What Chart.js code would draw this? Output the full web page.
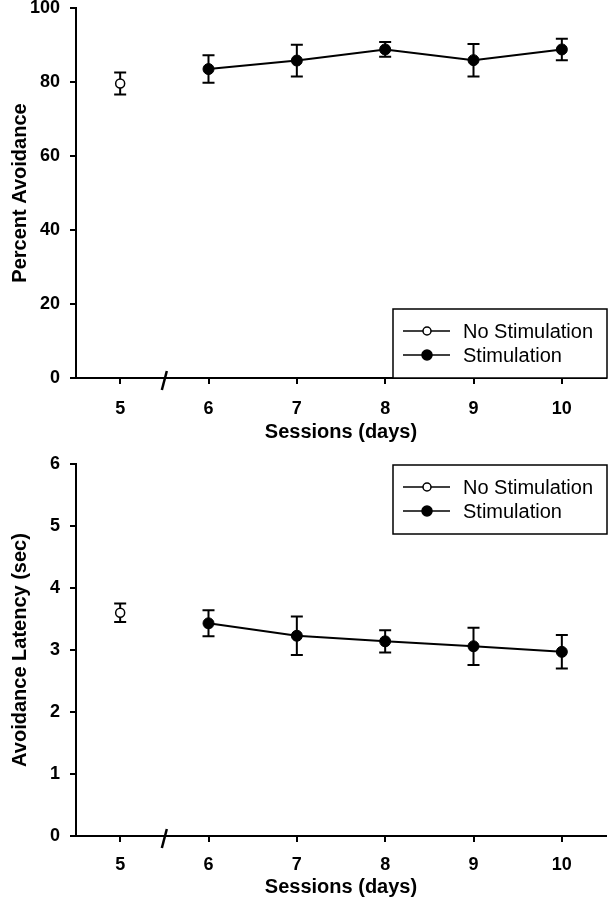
<!DOCTYPE html>
<html>
<head>
<meta charset="utf-8">
<script src="https://cdn.jsdelivr.net/npm/chart.js@4.4.1/dist/chart.umd.min.js"></script>
<style>
  body { margin: 0; background: #fff; }
  canvas { display: block; }
</style>
</head>
<body>
<canvas id="avoidChart" width="608" height="450"></canvas>
<canvas id="latencyChart" width="608" height="450"></canvas>
<script>
// sessions (day 5 = last day without stimulation)
const baselineDay = [5];
const stimDays = [6, 7, 8, 9, 10];
const xTicks = [5, 6, 7, 8, 9, 10];

// percent avoidance, mean and SEM
const avoidNoStim = [79.6];
const avoidNoStimErr = [3.0];
const avoidStim = [83.5, 85.8, 88.8, 85.9, 88.8];
const avoidStimErr = [3.7, 4.3, 2.0, 4.4, 2.9];

// avoidance latency (sec), mean and SEM
const latNoStim = [3.60];
const latNoStimErr = [0.15];
const latStim = [3.43, 3.23, 3.14, 3.06, 2.97];
const latStimErr = [0.21, 0.31, 0.18, 0.30, 0.27];

const seriesNames = ['No Stimulation', 'Stimulation'];

const FONT = '"Liberation Sans", Arial, sans-serif';

// error bars go under the points
const errorBars = {
    id: 'errorBars',
    beforeDatasetsDraw(chart) {
        const ctx = chart.ctx;
        const xs = chart.scales.x, ys = chart.scales.y;
        ctx.save();
        ctx.strokeStyle = '#000';
        ctx.lineWidth = 2;
        chart.data.datasets.forEach(ds => {
            ds.data.forEach((p, j) => {
                const e = ds.errors[j];
                const x = xs.getPixelForValue(p.x);
                const y1 = ys.getPixelForValue(p.y + e);
                const y2 = ys.getPixelForValue(p.y - e);
                ctx.beginPath();
                ctx.moveTo(x, y1); ctx.lineTo(x, y2);
                ctx.moveTo(x - 6, y1); ctx.lineTo(x + 6, y1);
                ctx.moveTo(x - 6, y2); ctx.lineTo(x + 6, y2);
                ctx.stroke();
            });
        });
        ctx.restore();
    }
};

// little slash on the x axis between day 5 and 6
const axisBreak = {
    id: 'axisBreak',
    afterDraw(chart) {
        const ctx = chart.ctx;
        const x = chart.scales.x.getPixelForValue(5.5);
        const y = chart.scales.y.bottom;
        ctx.save();
        ctx.strokeStyle = '#000';
        ctx.lineWidth = 2.5;
        ctx.beginPath();
        ctx.moveTo(x + 2.5, y - 7);
        ctx.lineTo(x - 2.5, y + 12);
        ctx.stroke();
        ctx.restore();
    }
};

// boxed legend inside the plot
const boxLegend = {
    id: 'boxLegend',
    afterDraw(chart, args, opts) {
        const ctx = chart.ctx;
        const area = chart.chartArea;
        const w = 214, h = 69;
        const x0 = area.right - w + 1;
        const y0 = opts.position === 'top' ? area.top + 1 : area.bottom - h;
        ctx.save();
        ctx.fillStyle = '#fff';
        ctx.fillRect(x0, y0, w, h);
        ctx.strokeStyle = '#000';
        ctx.lineWidth = 1.5;
        ctx.strokeRect(x0, y0, w, h);
        chart.data.datasets.forEach((ds, i) => {
            const y = y0 + 22 + i * 24;
            ctx.lineWidth = 1.5;
            ctx.beginPath();
            ctx.moveTo(x0 + 10, y); ctx.lineTo(x0 + 57, y);
            ctx.stroke();
            ctx.beginPath();
            ctx.arc(x0 + 34, y, i === 0 ? 4 : 5, 0, Math.PI * 2);
            ctx.fillStyle = ds.pointBackgroundColor;
            ctx.fill();
            ctx.stroke();
            ctx.fillStyle = '#000';
            ctx.font = '20px ' + FONT;
            ctx.textBaseline = 'middle';
            ctx.textAlign = 'left';
            ctx.fillText(ds.label, x0 + 70, y + 1);
        });
        ctx.restore();
    }
};

const toPoints = (xs, ys) => xs.map((x, i) => ({ x: x, y: ys[i] }));

const createChart = (id, o) => {
    new Chart(document.getElementById(id), {
        type: 'line',
        data: {
            datasets: [{
                label: seriesNames[0],
                data: toPoints(baselineDay, o.noStim),
                errors: o.noStimErr,
                showLine: false,
                borderColor: '#000',
                pointBackgroundColor: '#fff',
                pointBorderColor: '#000',
                pointBorderWidth: 1.5,
                pointRadius: 4.5
            }, {
                label: seriesNames[1],
                data: toPoints(stimDays, o.stim),
                errors: o.stimErr,
                borderColor: '#000',
                borderWidth: 2,
                pointBackgroundColor: '#000',
                pointBorderColor: '#000',
                pointBorderWidth: 1,
                pointRadius: 5.5,
                tension: 0
            }]
        },
        options: {
            responsive: false,
            animation: false,
            layout: { autoPadding: false, padding: { top: o.padTop, right: 2, left: 0, bottom: 0 } },
            plugins: {
                legend: { display: false },
                tooltip: { enabled: false },
                boxLegend: { position: o.legendPos }
            },
            scales: {
                x: {
                    type: 'linear',
                    min: 4.5,
                    max: 10.5,
                    afterBuildTicks: s => { s.ticks = xTicks.map(v => ({ value: v })); },
                    afterFit: s => { s.height = o.xHeight; s.paddingLeft = 0; s.paddingRight = 0; },
                    grid: { drawOnChartArea: false, color: '#000', lineWidth: 2, tickLength: 6 },
                    border: { color: '#000', width: 2 },
                    ticks: { color: '#000', font: { family: FONT, size: 18, weight: 'bold' }, padding: o.xTickPad },
                    title: {
                        display: true, text: 'Sessions (days)', color: '#000',
                        font: { family: FONT, size: 20, weight: 'bold' },
                        padding: { top: 0, bottom: o.xTitlePad }
                    }
                },
                y: {
                    min: 0,
                    max: o.yMax,
                    ticks: { stepSize: o.yStep, color: '#000', font: { family: FONT, size: 18, weight: 'bold' }, padding: 10 },
                    afterFit: s => { s.width = 76; s.paddingTop = 0; s.paddingBottom = 0; },
                    grid: { drawOnChartArea: false, color: '#000', lineWidth: 2, tickLength: 6 },
                    border: { color: '#000', width: 2 },
                    title: {
                        display: true, text: o.yTitle, color: '#000',
                        font: { family: FONT, size: 20, weight: 'bold' },
                        padding: { top: 8, bottom: 0 }
                    }
                }
            }
        },
        plugins: [errorBars, axisBreak, boxLegend]
    });
};

createChart('avoidChart', {
    noStim: avoidNoStim, noStimErr: avoidNoStimErr,
    stim: avoidStim, stimErr: avoidStimErr,
    yMax: 100, yStep: 20, yTitle: 'Percent Avoidance',
    legendPos: 'bottom', padTop: 8, xHeight: 72, xTickPad: 14, xTitlePad: 6
});

createChart('latencyChart', {
    noStim: latNoStim, noStimErr: latNoStimErr,
    stim: latStim, stimErr: latStimErr,
    yMax: 6, yStep: 1, yTitle: 'Avoidance Latency (sec)',
    legendPos: 'top', padTop: 14, xHeight: 64, xTickPad: 12, xTitlePad: 1
});
</script>
</body>
</html>
